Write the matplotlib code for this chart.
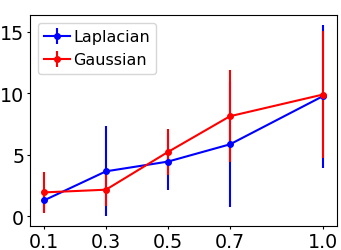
import matplotlib
matplotlib.use("Agg")
import matplotlib.pyplot as plt

x = [0.1, 0.3, 0.5, 0.7, 1.0]
lap_mean = [1.30, 3.66, 4.45, 5.85, 9.76]
lap_err = [0.9, 3.65, 2.34, 5.09, 5.8]
gau_mean = [1.95, 2.17, 5.23, 8.13, 9.89]
gau_err = [1.67, 1.36, 1.83, 3.73, 5.15]

fig = plt.figure(figsize=(3.41, 2.51), dpi=100)
ax = fig.add_axes([0.088, 0.096, 0.90, 0.84])

ax.errorbar(x, lap_mean, yerr=lap_err, color='blue', marker='o', ms=4,
            lw=1.5, label='Laplacian')
ax.errorbar(x, gau_mean, yerr=gau_err, color='red', marker='o', ms=4,
            lw=1.5, label='Gaussian')

ax.set_xticks(x)
ax.set_xticklabels(['0.1', '0.3', '0.5', '0.7', '1.0'])
ax.set_yticks([0, 5, 10, 15])
ax.tick_params(labelsize=13.7, length=2.2)
ax.tick_params(axis='x', pad=2.5)
ax.tick_params(axis='y', pad=2)
ax.legend(loc='upper left', fontsize=11.5, handlelength=1.6,
          handletextpad=0.2, borderaxespad=0.5)

fig.savefig('out.png', dpi=100)
